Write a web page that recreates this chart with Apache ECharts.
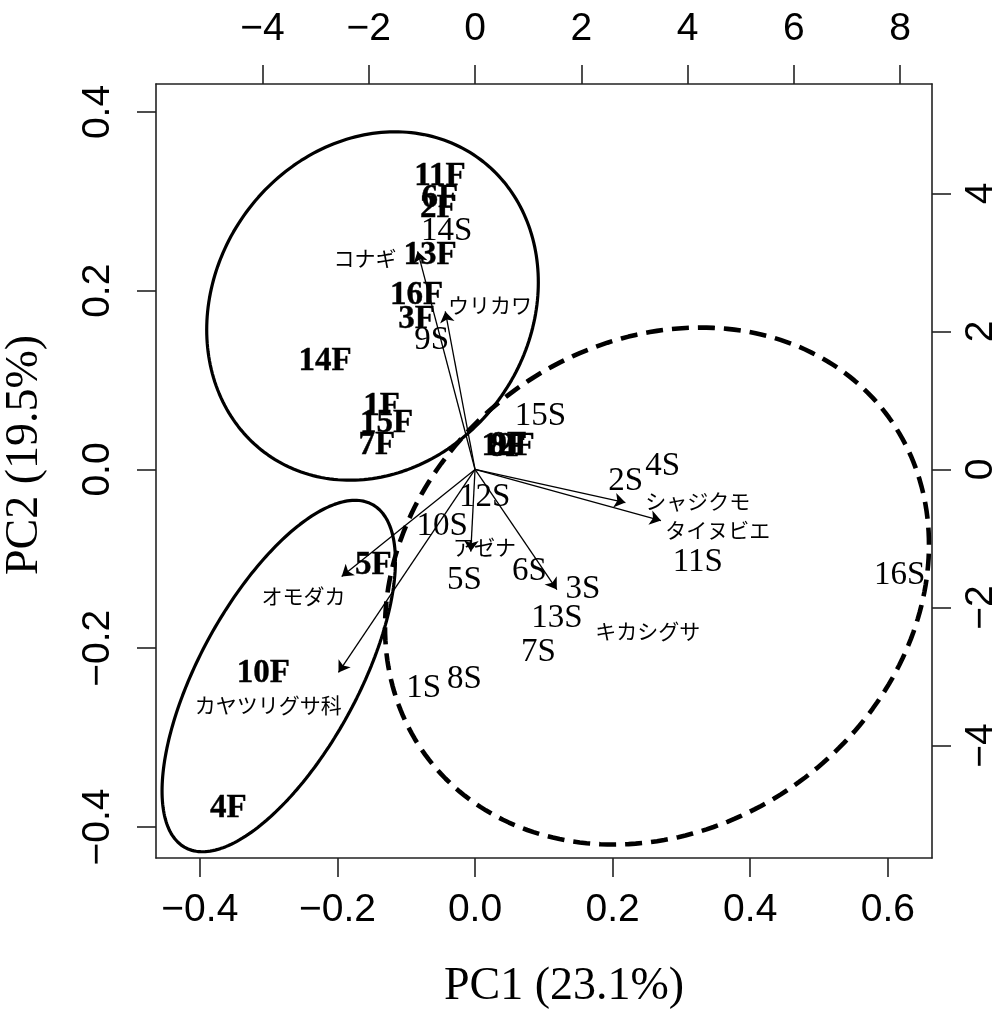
<!DOCTYPE html>
<html><head><meta charset="utf-8">
<script src="https://cdn.jsdelivr.net/npm/echarts@6/dist/echarts.min.js"></script>
<style>html,body{margin:0;padding:0;background:#fff}#c{width:1003px;height:1017px}</style>
</head><body><div id="c"></div>
<script>
// ---- Site scores (PC1, PC2) : F sites ----
const fSites = ['1F','2F','3F','4F','5F','6F','7F','8F','9F','10F','11F','12F','13F','14F','15F','16F'];
const fPC1 = [-0.1357,-0.0533,-0.0848,-0.3586,-0.1478,-0.0510,-0.1429,0.0470,0.0490,-0.3077,-0.0509,0.0480,-0.0654,-0.2180,-0.1284,-0.0848];
const fPC2 = [0.0703,0.2922,0.1673,-0.3790,-0.1069,0.3034,0.0274,0.0250,0.0270,-0.2280,0.3277,0.0260,0.2400,0.1206,0.0517,0.1952];
// ---- Site scores : S sites ----
const sSites = ['1S','2S','3S','4S','5S','6S','7S','8S','9S','10S','11S','12S','13S','14S','15S','16S'];
const sPC1 = [-0.0746,0.2189,0.1570,0.2727,-0.0154,0.0789,0.0923,-0.0154,-0.0630,-0.0477,0.3238,0.0142,0.1192,-0.0412,0.0951,0.6172];
const sPC2 = [-0.2449,-0.0131,-0.1340,0.0030,-0.1240,-0.1139,-0.2045,-0.2349,0.1449,-0.0634,-0.1038,-0.0312,-0.1662,0.2661,0.0595,-0.1179];
// ---- Species loadings (secondary axes) ----
const species = ['コナギ','ウリカワ','シャジクモ','タイヌビエ','アゼナ','キカシグサ','オモダカ','カヤツリグサ科'];
const loadPC1 = [-1.08,-0.56,2.83,3.50,-0.08,1.54,-2.51,-2.57];
const loadPC2 = [3.16,2.29,-0.48,-0.74,-1.19,-1.74,-1.55,-2.94];
const labelPC1 = [-2.07,0.28,4.19,4.57,0.18,3.25,-3.23,-3.89];
const labelPC2 = [3.06,2.38,-0.46,-0.87,-1.13,-2.34,-1.84,-3.41];
// ---- Group ellipses (centre, half extents, correlation) ----
const ellCX = [-0.149,-0.2853,0.2645];
const ellCY = [0.1829,-0.2311,-0.1304];
const ellWX = [0.241,0.1696,0.3953];
const ellWY = [0.1949,0.1966,0.2892];
const ellR  = [0.1363,0.654,0.160];
const ellDashed = [false,false,true];
// ---- Axes ----
const xTicks = [-0.4,-0.2,0.0,0.2,0.4,0.6];
const yTicks = [-0.4,-0.2,0.0,0.2,0.4];
const x2Ticks = [-4,-2,0,2,4,6,8];
const y2Ticks = [-4,-2,0,2,4];
const xMin=-0.4637, xMax=0.6642, yMin=-0.4347, yMax=0.4313, K=12.95;

const fmt = (d)=>v=>{let s=Math.abs(v).toFixed(d); return (v< -1e-9?'\u2212':'')+s;};
const tickFont = {fontFamily:'Liberation Sans, Arial, sans-serif',fontSize:39,color:'#000'};
const lineAx = {show:true,lineStyle:{color:'#222',width:1.6}};
function xA(pos,min,max,ticks,dec,extra){
  return Object.assign({type:'value',position:pos,min:min,max:max,splitLine:{show:false},axisLine:Object.assign({onZero:false},lineAx),
    axisTick:{show:true,inside:false,length:19,lineStyle:{color:'#222',width:1.6},customValues:ticks},
    axisLabel:Object.assign({customValues:ticks,formatter:fmt(dec),margin:33},tickFont)},extra||{});
}
const ellipseSeries = ellCX.map((cx,i)=>{
  const pts=[]; const N=240; const s=Math.sqrt(1-ellR[i]*ellR[i]);
  for(let j=0;j<=N;j++){const t=2*Math.PI*j/N; pts.push([cx+ellWX[i]*Math.cos(t), ellCY[i]+ellWY[i]*(ellR[i]*Math.cos(t)+s*Math.sin(t))]);}
  return {type:'line',data:pts,showSymbol:false,symbol:'none',smooth:false,silent:true,z:3,
    lineStyle:{color:'#000',width:ellDashed[i]?4.6:3.2,type:ellDashed[i]?[17,9]:'solid'}};
});
const serif = 'Liberation Serif, "Times New Roman", serif';
function textSeries(names,xs,ys,font,z,axisIdx,stroke){
  return {type:'custom',xAxisIndex:axisIdx,yAxisIndex:axisIdx,z:z,silent:true,
    data:names.map((n,i)=>[xs[i],ys[i],n]),
    encode:{x:0,y:1},
    renderItem:function(params,api){
      const p=api.coord([api.value(0),api.value(1)]);
      return {type:'text',x:p[0],y:p[1],
        style:{text:names[params.dataIndex],font:font,fill:'#000',align:'center',verticalAlign:'middle',
          stroke:stroke?'#000':null,lineWidth:stroke||0}};
    }};
}
const chart = echarts.init(document.getElementById('c'),null,{renderer:'canvas'});
chart.setOption({
  animation:false,backgroundColor:'#fff',
  grid:{left:156,top:84,width:776,height:774,containLabel:false,outerBoundsMode:'none'},
  xAxis:[
    xA('bottom',xMin,xMax,xTicks,1,{name:'PC1 (23.1%)',nameLocation:'middle',nameGap:106,
      nameTextStyle:{fontFamily:serif,fontSize:46,color:'#000',padding:[0,0,0,40]}}),
    xA('top',xMin*K,xMax*K,x2Ticks,0,{axisLabel:Object.assign({customValues:x2Ticks,formatter:fmt(0),margin:35},tickFont)})
  ],
  yAxis:[
    xA('left',yMin,yMax,yTicks,1,{axisLabel:Object.assign({customValues:yTicks,formatter:fmt(1),margin:38,rotate:90},tickFont),
      name:'PC2 (19.5%)',nameLocation:'middle',nameGap:108,
      nameTextStyle:{fontFamily:serif,fontSize:46,color:'#000',padding:[0,0,0,32]}}),
    xA('right',yMin*K,yMax*K,y2Ticks,0,{axisLabel:Object.assign({customValues:y2Ticks,formatter:fmt(0),margin:30,rotate:90},tickFont)})
  ],
  series:[
    ...ellipseSeries,
    {type:'lines',coordinateSystem:'cartesian2d',xAxisIndex:1,yAxisIndex:1,z:4,silent:true,
      symbol:['none','arrow'],symbolSize:11,
      lineStyle:{color:'#000',width:1.3,opacity:1,curveness:0},
      data:species.map((n,i)=>({coords:[[0,0],[loadPC1[i],loadPC2[i]]]}))},
    textSeries(species,labelPC1,labelPC2,'21px "Noto Sans CJK JP", sans-serif',6,1,0),
    textSeries(sSites,sPC1,sPC2,'33px '+serif,6,0,0),
    textSeries(fSites,fPC1,fPC2,'bold 33px '+serif,7,0,0.4)
  ]
});
</script></body></html>
